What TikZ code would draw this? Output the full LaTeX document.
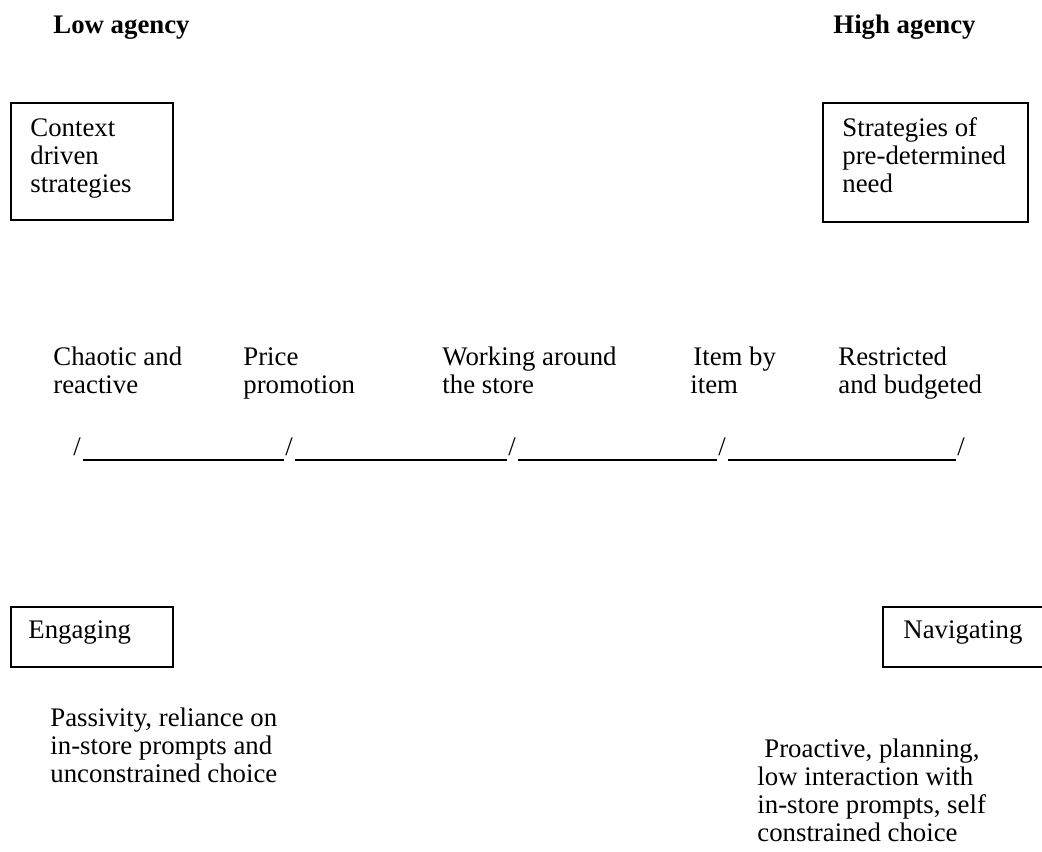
\documentclass[tikz,border=0pt]{standalone}
\usepackage{fontspec}
\setmainfont{Liberation Serif}
\begin{document}
\begin{tikzpicture}[x=0.5pt,y=-0.5pt,
  every node/.style={inner sep=0pt, anchor=base west, align=left,
    font=\fontsize{13.4}{14}\selectfont}]
  % Définir une couleur pour le schéma
  \definecolor{inkcolor}{RGB}{0,0,0}
  \useasboundingbox (0,0) rectangle (1042,851);
  \clip (0,0) rectangle (1042,851);

  % Les deux extremes
  \node[inkcolor, font=\fontsize{13.4}{14}\selectfont\bfseries] at (53,33) (low) {Low agency};
  \node[inkcolor, font=\fontsize{13.4}{14}\selectfont\bfseries] at (833,33) (high) {High agency};

  % Cadres du haut (base = derniere ligne)
  \draw[inkcolor, line width=0.55pt] (11,103) rectangle (173,220);
  \node[inkcolor] at (30,192) (context) {Context\\driven\\strategies};
  \draw[inkcolor, line width=0.55pt] (823,103) rectangle (1028,222);
  \node[inkcolor] at (842,192) (need) {Strategies of\\pre-determined\\need};

  % Les etapes
  \node[inkcolor] at (53,393) (chaotic) {Chaotic and\\reactive};
  \node[inkcolor] at (243,393) (price) {Price\\promotion};
  \node[inkcolor] at (442,393) (working) {Working around\\the store};
  \node[inkcolor] at (690,393) (item) {\kern1.5pt Item by\\item};
  \node[inkcolor] at (838,393) (restricted) {Restricted\\and budgeted};

  % L'echelle
  \foreach \i/\x in {1/73,2/285,3/508,4/718,5/957}
    \node[inkcolor] at (\x,455) (s\i) {/};
  \foreach \i/\j in {1/2,2/3,3/4,4/5}
    \draw[inkcolor, line width=0.75pt] ([shift={(1pt,-2.6pt)}]s\i.base east) -- ([shift={(-0.5pt,-2.6pt)}]s\j.base west);

  % Cadres du bas
  \draw[inkcolor, line width=0.55pt] (11,607) rectangle (173,667);
  \node[inkcolor] at (28,638) (engaging) {Engaging};
  \draw[inkcolor, line width=0.55pt] (883,607) rectangle (1060,667);
  \node[inkcolor] at (903,638) (navigating) {Navigating};

  % Descriptions
  \node[inkcolor] at (50,782) (passive) {Passivity, reliance on\\in-store prompts and\\unconstrained choice};
  \node[inkcolor] at (757,841) (proactive) {\kern3.5pt Proactive, planning,\\low interaction with\\in-store prompts, self\\constrained choice};
\end{tikzpicture}
\end{document}
